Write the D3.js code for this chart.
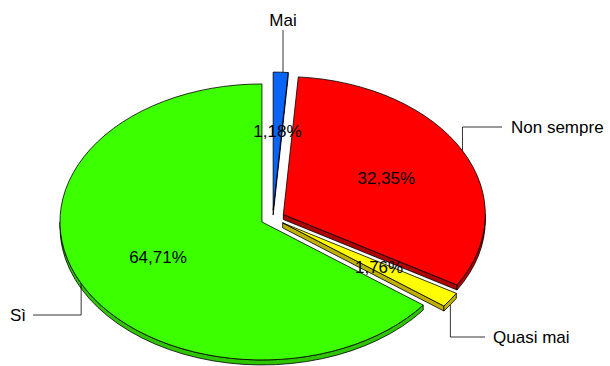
<!DOCTYPE html>
<html>
<head>
<meta charset="utf-8">
<script src="https://cdn.jsdelivr.net/npm/d3@7"></script>
<style>
  html, body { margin: 0; padding: 0; background: #fff; }
  svg { display: block; }
  text { font-family: "Liberation Sans", Arial, sans-serif; fill: #000; }
</style>
</head>
<body>
<svg id="chart" width="610" height="366"></svg>
<script>
// Survey answers and their shares (percent)
const categories = ["Mai", "Non sempre", "Quasi mai", "Sì"];
const values = [1.18, 32.35, 1.76, 64.71];
const topColors = ["#0a64f5", "#ff0000", "#ffff00", "#3cff00"];
const sideColors = ["#0645a8", "#b00000", "#bfb000", "#2ec400"];

const svg = d3.select("#chart");

// Tilted pie geometry
const cx = 272.7, cy = 218.3;     // pie centre before explosion
const rx = 202, ry = 138;         // ellipse radii of the top face
const depth = 5;                  // thickness of the disc
const explode = 12;               // slice offset along its bisector

const fmt = v => d3.format(".2f")(v).replace(".", ",") + "%";

const pie = d3.pie().sort(null).value(d => d.value).startAngle(0).endAngle(2 * Math.PI);
const data = categories.map((c, i) => ({ name: c, value: values[i], i }));
const arcs = pie(data);

const color = d3.scaleOrdinal().domain(categories).range(topColors);
const side = d3.scaleOrdinal().domain(categories).range(sideColors);

function pt(c, a, r = 1, dz = 0) {
  return [c[0] + rx * r * Math.sin(a), c[1] - ry * r * Math.cos(a) + dz];
}
function centreOf(d) {
  const m = (d.startAngle + d.endAngle) / 2;
  return [cx + explode * Math.sin(m), cy - explode * (ry / rx) * Math.cos(m)];
}
function ellArc(p, large, sweep) {
  return `A${rx},${ry} 0 ${large} ${sweep} ${p[0]},${p[1]}`;
}

function topPath(d) {
  const c = centreOf(d);
  const a0 = d.startAngle, a1 = d.endAngle;
  const p0 = pt(c, a0), p1 = pt(c, a1);
  const large = (a1 - a0) > Math.PI ? 1 : 0;
  return `M${c[0]},${c[1]} L${p0[0]},${p0[1]} ${ellArc(p1, large, 1)} Z`;
}

function outerWall(d) {
  const c = centreOf(d);
  const a = Math.max(d.startAngle, Math.PI / 2);
  const b = Math.min(d.endAngle, 3 * Math.PI / 2);
  if (a >= b) return null;
  const p0 = pt(c, a), p1 = pt(c, b), q1 = pt(c, b, 1, depth), q0 = pt(c, a, 1, depth);
  const large = (b - a) > Math.PI ? 1 : 0;
  return `M${p0[0]},${p0[1]} ${ellArc(p1, large, 1)} L${q1[0]},${q1[1]} ${ellArc(q0, large, 0)} Z`;
}

function radialFace(d, a, normal) {
  // visible only when the face's outward normal points towards the viewer
  if (Math.cos(normal) >= -1e-6) return null;
  const c = centreOf(d);
  const p = pt(c, a);
  return `M${c[0]},${c[1]} L${p[0]},${p[1]} L${p[0]},${p[1] + depth} L${c[0]},${c[1] + depth} Z`;
}

// back-to-front drawing order
const order = arcs.slice().sort((u, v) =>
  (-Math.cos((u.startAngle + u.endAngle) / 2)) - (-Math.cos((v.startAngle + v.endAngle) / 2)));

const gPie = svg.append("g");
order.forEach(d => {
  const g = gPie.append("g");
  const faces = [
    radialFace(d, d.startAngle, d.startAngle - Math.PI / 2),
    radialFace(d, d.endAngle, d.endAngle + Math.PI / 2),
    outerWall(d)
  ].filter(Boolean);
  faces.forEach(f => g.append("path").attr("d", f)
    .attr("fill", side(d.data.name)).attr("stroke", "#000")
    .attr("stroke-width", 0.8).attr("stroke-linejoin", "round"));
  g.append("path").attr("d", topPath(d))
    .attr("fill", color(d.data.name)).attr("stroke", "#000")
    .attr("stroke-width", 0.8).attr("stroke-linejoin", "round");
});

// percentage labels on the top faces
arcs.forEach(d => {
  const c = centreOf(d);
  const m = (d.startAngle + d.endAngle) / 2;
  const p = pt(c, m, 0.575);
  svg.append("text").attr("x", p[0]).attr("y", p[1]).attr("dy", "0.36em")
    .attr("text-anchor", "middle").attr("font-size", 17)
    .text(fmt(d.data.value));
});

// category labels with elbow leader lines
const layout = {
  "Mai":        { tx: 283, ty: 20,  anchor: "middle", kind: "up" },
  "Non sempre": { tx: 511, ty: 127, anchor: "start",  kind: "right", lx: 502 },
  "Quasi mai":  { tx: 493, ty: 337, anchor: "start",  kind: "right", lx: 485, bottom: true },
  "Sì":         { tx: 26,  ty: 315, anchor: "end",    kind: "left",  lx: 33 }
};

arcs.forEach(d => {
  const L = layout[d.data.name];
  const c = centreOf(d);
  const m = (d.startAngle + d.endAngle) / 2;
  const a = pt(c, m, 1, L.bottom ? depth : 0);
  let pts;
  if (L.kind === "up") {
    const top = pt(c, d.startAngle)[1];
    pts = [[L.tx, L.ty + 10], [L.tx, top]];
  } else {
    pts = [[L.lx, L.ty], [a[0], L.ty], [a[0], a[1]]];
  }
  svg.append("path").attr("d", d3.line()(pts))
    .attr("fill", "none").attr("stroke", "#000").attr("stroke-width", 0.8);
  svg.append("text").attr("x", L.tx).attr("y", L.ty).attr("dy", "0.36em")
    .attr("text-anchor", L.anchor).attr("font-size", 17)
    .text(d.data.name);
});
</script>
</body>
</html>
